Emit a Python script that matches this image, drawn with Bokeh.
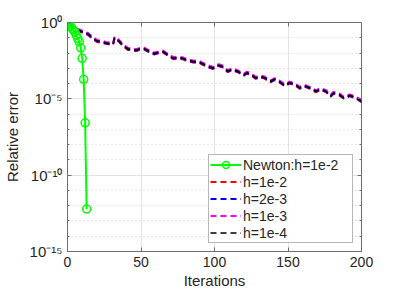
from bokeh.plotting import figure
from bokeh.models import (FixedTicker, CustomJSTickFormatter, LinearAxis, LogAxis,
                          Legend, LegendItem, Range1d)
from bokeh.embed import file_html
from bokeh.resources import INLINE

# ---- data ----
newton_iter = [0, 1, 2, 3, 4, 5, 6, 7, 8, 9, 10, 11, 12, 13]
newton_err = [1.0, 0.76, 0.56, 0.42, 0.32, 0.24, 0.145, 0.089, 0.054, 0.022,
              4.5e-3, 1.9e-4, 2.7e-7, 6e-13]

iters = [1, 3, 6, 9, 12, 14, 17, 20, 23, 26, 29, 31, 32, 35, 38, 41, 44, 47, 49, 52,
         55, 59, 62, 65, 69, 72, 75, 78, 82, 86, 89, 92, 96, 99, 102, 105, 109, 112, 116, 120,
         122, 125, 128, 131, 134, 138, 141, 144, 148, 151, 155, 158, 161, 165, 169, 172, 176, 179, 181, 185,
         188, 192, 196, 200]

err_h1e2 = [0.675, 0.426, 0.302, 0.240, 0.178, 0.151, 0.085, 0.0536, 0.0478, 0.0398, 0.0354, 0.0338,
            0.0893, 0.0536, 0.0269, 0.0162, 0.0141, 0.0134, 0.0162, 0.0170,
            0.0120, 0.00793, 0.00952, 0.0107, 0.00602, 0.00398, 0.00426, 0.00398, 0.00281, 0.00234,
            0.00240, 0.00170, 0.00112, 8.93e-4, 0.00141, 0.00120, 5.62e-4, 7.57e-4, 5.36e-4, 3.23e-4,
            4.46e-4, 3.38e-4, 2.04e-4, 2.51e-4, 2.13e-4, 1.20e-4, 1.70e-4, 1.20e-4, 6.45e-5, 9.95e-5,
            7.57e-5, 4.46e-5, 6.30e-5, 4.46e-5, 2.69e-5, 3.80e-5, 2.69e-5, 1.34e-5, 2.13e-5, 1.62e-5,
            1.02e-5, 1.45e-5, 1.07e-5, 6.02e-6]

err_h2e3 = [0.738, 0.466, 0.330, 0.262, 0.194, 0.166, 0.093, 0.0587, 0.0523, 0.0435, 0.0388, 0.0370,
            0.0977, 0.0587, 0.0294, 0.0178, 0.0154, 0.0147, 0.0178, 0.0186,
            0.0131, 0.00868, 0.0104, 0.0117, 0.00658, 0.00435, 0.00466, 0.00435, 0.00308, 0.00256,
            0.00262, 0.00186, 0.00123, 9.77e-4, 0.00154, 0.00131, 6.15e-4, 8.29e-4, 5.87e-4, 3.53e-4,
            4.88e-4, 3.70e-4, 2.23e-4, 2.74e-4, 2.33e-4, 1.31e-4, 1.86e-4, 1.31e-4, 7.06e-5, 1.09e-4,
            8.29e-5, 4.88e-5, 6.89e-5, 4.88e-5, 2.94e-5, 4.16e-5, 2.94e-5, 1.47e-5, 2.33e-5, 1.78e-5,
            1.12e-5, 1.58e-5, 1.17e-5, 6.58e-6]

err_h1e3 = [0.913, 0.576, 0.408, 0.324, 0.240, 0.205, 0.115, 0.0726, 0.0646, 0.0538, 0.0480, 0.0458,
            0.121, 0.0726, 0.0363, 0.0220, 0.0191, 0.0182, 0.0220, 0.0230,
            0.0162, 0.0107, 0.0129, 0.0145, 0.00814, 0.00538, 0.00576, 0.00538, 0.00381, 0.00316,
            0.00324, 0.00230, 0.00152, 0.00121, 0.00191, 0.00162, 7.60e-4, 1.02e-3, 7.26e-4, 4.37e-4,
            6.04e-4, 4.58e-4, 2.76e-4, 3.39e-4, 2.89e-4, 1.62e-4, 2.30e-4, 1.62e-4, 8.73e-5, 1.35e-4,
            1.02e-4, 6.04e-5, 8.52e-5, 6.04e-5, 3.63e-5, 5.14e-5, 3.63e-5, 1.82e-5, 2.89e-5, 2.20e-5,
            1.38e-5, 1.96e-5, 1.45e-5, 8.14e-6]

err_h1e4 = [0.794, 0.501, 0.355, 0.282, 0.209, 0.178, 0.1, 0.0631, 0.0562, 0.0468, 0.0417, 0.0398,
            0.105, 0.0631, 0.0316, 0.0191, 0.0166, 0.0158, 0.0191, 0.0200,
            0.0141, 0.00933, 0.0112, 0.0126, 0.00708, 0.00468, 0.00501, 0.00468, 0.00331, 0.00275,
            0.00282, 0.00200, 0.00132, 0.00105, 0.00166, 0.00141, 6.61e-4, 8.91e-4, 6.31e-4, 3.80e-4,
            5.25e-4, 3.98e-4, 2.40e-4, 2.95e-4, 2.51e-4, 1.41e-4, 2.00e-4, 1.41e-4, 7.59e-5, 1.17e-4,
            8.91e-5, 5.25e-5, 7.41e-5, 5.25e-5, 3.16e-5, 4.47e-5, 3.16e-5, 1.58e-5, 2.51e-5, 1.91e-5,
            1.20e-5, 1.70e-5, 1.26e-5, 7.08e-6]

x_ticks = [0, 50, 100, 150, 200]
y_major = [1e-15, 1e-10, 1e-5, 1e0]
y_minor = [1e-15, 1e-14, 1e-13, 1e-12, 1e-11, 1e-10, 1e-9, 1e-8, 1e-7, 1e-6,
           1e-5, 1e-4, 1e-3, 1e-2, 1e-1, 1e0]

labels = ["Newton:h=1e-2", "h=1e-2", "h=2e-3", "h=1e-3", "h=1e-4"]

# ---- figure ----
FONT = "Liberation Sans"
TXT = "#262626"
AX = "#6e6e6e"

p = figure(width=391, height=291, y_axis_type="log",
           x_range=Range1d(0, 200), y_range=Range1d(1e-15, 1e0),
           output_backend="svg", toolbar_location=None,
           min_border_left=67, min_border_right=30, min_border_top=22, min_border_bottom=36)
p.background_fill_color = "white"
p.border_fill_color = "white"
p.outline_line_color = AX
p.outline_line_width = 1

# grids
p.xgrid.ticker = FixedTicker(ticks=x_ticks)
p.xgrid.grid_line_color = "#e3e3e3"
p.ygrid.ticker = FixedTicker(ticks=y_major, minor_ticks=y_minor)
p.ygrid.grid_line_color = "#e3e3e3"
p.ygrid.minor_grid_line_color = "#d0d0d0"
p.ygrid.minor_grid_line_dash = "1 3"

fmt = CustomJSTickFormatter(code="""
const sup = {'-':'\u207b','0':'\u2070','1':'\u00b9','2':'\u00b2','3':'\u00b3','4':'\u2074',
             '5':'\u2075','6':'\u2076','7':'\u2077','8':'\u2078','9':'\u2079'};
const e = Math.round(Math.log10(tick));
return '10' + String(e).split('').map(c => sup[c]).join('');
""")

xa = p.xaxis[0]
xa.ticker = FixedTicker(ticks=x_ticks)
ya = p.yaxis[0]
ya.ticker = FixedTicker(ticks=y_major, minor_ticks=y_minor)
ya.formatter = fmt

for ax in (xa, ya):
    ax.axis_line_color = AX
    ax.major_tick_line_color = AX
    ax.minor_tick_line_color = AX
    ax.major_tick_in = 4
    ax.major_tick_out = 0
    ax.minor_tick_in = 2
    ax.minor_tick_out = 0
    ax.major_label_text_font = FONT
    ax.major_label_text_font_size = "14px"
    ax.major_label_text_color = TXT
    ax.axis_label_text_font = FONT
    ax.axis_label_text_font_size = "15px"
    ax.axis_label_text_font_style = "normal"
    ax.axis_label_text_color = TXT
xa.minor_tick_line_color = None
xa.axis_label = "Iterations"
xa.axis_label_standoff = 2
xa.major_label_standoff = 5
ya.axis_label = "Relative error"
ya.axis_label_standoff = 6
ya.major_label_standoff = 5
ya.major_label_text_font_size = "15px"

# mirrored ticks on the right and top edges (MATLAB box)
blank = CustomJSTickFormatter(code="return ' ';")
ra = LogAxis(ticker=FixedTicker(ticks=y_major, minor_ticks=y_minor), formatter=blank,
             axis_line_color=None, major_tick_line_color=AX, minor_tick_line_color=AX,
             major_tick_in=4, major_tick_out=0, minor_tick_in=2, minor_tick_out=0,
             major_label_standoff=0, major_label_text_font_size="8px")
p.add_layout(ra, "right")
ta = LinearAxis(ticker=FixedTicker(ticks=x_ticks), formatter=blank,
                axis_line_color=None, major_tick_line_color=AX, minor_tick_line_color=None,
                major_tick_in=4, major_tick_out=0, major_label_standoff=0,
                major_label_text_font_size="8px")
p.add_layout(ta, "above")

# ---- glyphs ----
dash = "6 4"
r_red = p.line(iters, err_h1e2, line_color="#ff0000", line_width=2, line_dash=dash)
r_blue = p.line(iters, err_h2e3, line_color="#0000ff", line_width=2, line_dash=dash)
r_mag = p.line(iters, err_h1e3, line_color="#ff00ff", line_width=2, line_dash=dash)
r_blk = p.line(iters, err_h1e4, line_color="#000000", line_width=1.6, line_dash=dash)
r_nl = p.line(newton_iter, newton_err, line_color="#00ff00", line_width=2)
r_nm = p.scatter(newton_iter, newton_err, marker="circle", size=8,
                 line_color="#00ff00", line_width=1.5, fill_color=None)

legend = Legend(items=[
    LegendItem(label=labels[0], renderers=[r_nl, r_nm]),
    LegendItem(label=labels[1], renderers=[r_red]),
    LegendItem(label=labels[2], renderers=[r_blue]),
    LegendItem(label=labels[3], renderers=[r_mag]),
    LegendItem(label=labels[4], renderers=[r_blk]),
], location="bottom_right")
legend.margin = 8
legend.padding = 1
legend.spacing = 0
legend.glyph_width = 31
legend.glyph_height = 17
legend.label_height = 17
legend.label_width = 108
legend.label_standoff = 2
legend.label_text_font = FONT
legend.label_text_font_size = "14px"
legend.label_text_color = TXT
legend.border_line_color = AX
legend.border_line_width = 1
legend.background_fill_color = "white"
legend.background_fill_alpha = 1
p.add_layout(legend, "center")

open("out.html", "w").write(file_html(p, INLINE))
